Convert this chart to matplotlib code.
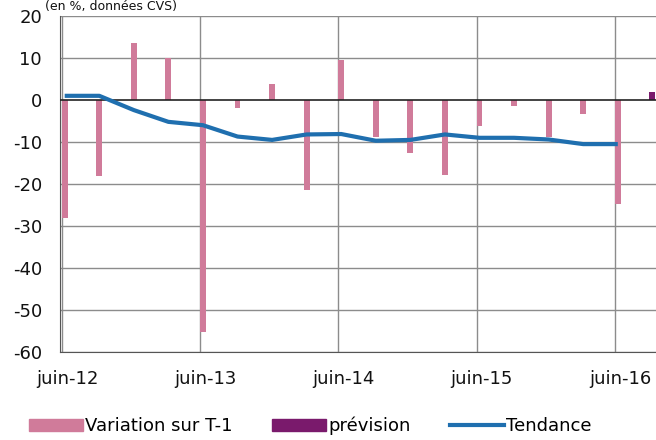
import matplotlib
matplotlib.use("Agg")
import matplotlib.pyplot as plt
from matplotlib.patches import Patch
from matplotlib.lines import Line2D

plt.rcParams['font.family'] = ['DejaVu Sans']

quarters = ["juin-12", "sept-12", "déc-12", "mars-13", "juin-13", "sept-13", "déc-13", "mars-14",
            "juin-14", "sept-14", "déc-14", "mars-15", "juin-15", "sept-15", "déc-15", "mars-16",
            "juin-16", "sept-16"]
variation = [-28.0, -18.0, 13.6, 10.0, -55.2, -2.0, 3.8, -21.4, 9.5, -8.7, -12.5, -17.9,
             -6.2, -1.4, -8.7, -3.4, -24.8]
prevision = [1.8]
tendance = [1.0, 1.0, -2.4, -5.2, -6.0, -8.7, -9.5, -8.2, -8.1, -9.7, -9.5, -8.2,
            -9.0, -9.0, -9.4, -10.5, -10.5]
year_ticks = ["juin-12", "juin-13", "juin-14", "juin-15", "juin-16"]
yticks = [20, 10, 0, -10, -20, -30, -40, -50, -60]

pink = "#D07B9A"
purple = "#7A1A6C"
blue = "#1F6FAF"
grid = "#8C8C8C"

fig = plt.figure(figsize=(6.56, 4.4), dpi=100)
ax = fig.add_axes([0.0915, 0.2, 0.9085, 0.7636])

idx = list(range(len(quarters)))
bw = 0.17
ax.bar(idx[:len(variation)], variation, width=bw, align='edge', color=pink, zorder=3)
ax.bar(idx[len(variation):len(variation) + len(prevision)], prevision, width=bw, align='edge',
       color=purple, zorder=3)
ax.plot([i + bw / 2 for i in idx[:len(tendance)]], tendance, color=blue, lw=3.0,
        solid_joinstyle='round', solid_capstyle='butt', zorder=4)

ax.set_ylim(-60, 20)
ax.set_xlim(-0.05, 17.19)
ax.set_yticks(yticks)
ax.set_yticklabels([str(v) for v in yticks])
for v in yticks:
    if v == 0:
        ax.axhline(v, color="#222222", lw=1.2, zorder=3.5)
    else:
        ax.axhline(v, color=grid, lw=1.0, zorder=1)
year_pos = [quarters.index(q) for q in year_ticks]
for p in year_pos:
    ax.axvline(p, color=grid, lw=1.0, zorder=1)
ax.set_xticks([p + 0.15 for p in year_pos])
ax.set_xticklabels(year_ticks)
ax.tick_params(axis='both', length=0, labelsize=13, colors="#111111")
ax.tick_params(axis='y', pad=13)
ax.tick_params(axis='x', pad=13)
for s in ['top', 'right']:
    ax.spines[s].set_visible(False)
ax.spines['left'].set_color("#555555")
ax.spines['bottom'].set_color("#555555")

fig.text(0.068, 0.999, "(en %, données CVS)", fontsize=9, va='top', ha='left', color="#111111")

handles = [Patch(color=pink, label="Variation sur T-1"),
           Patch(color=purple, label="prévision"),
           Line2D([0], [0], color=blue, lw=3, label="Tendance")]
fig.legend(handles=handles, loc='center', bbox_to_anchor=(0.473, 0.032), ncol=3, frameon=False,
           fontsize=13, handlelength=3.0, handleheight=0.6, handletextpad=0.1, columnspacing=2.2)

fig.savefig("out.png", dpi=100)
